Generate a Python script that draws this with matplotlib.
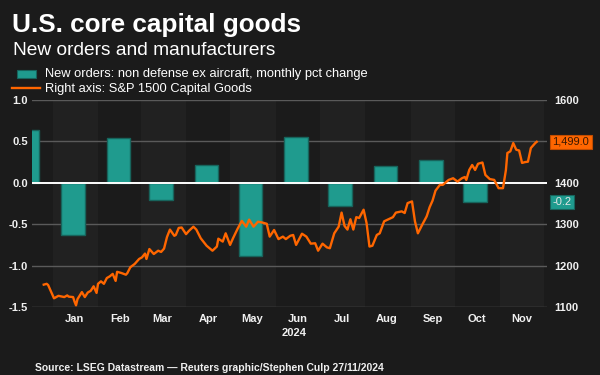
#!/usr/bin/env python3
"""U.S. core capital goods: monthly new orders (bars) vs S&P 1500 Capital Goods (line, right axis)."""
import pandas as pd
import matplotlib
matplotlib.use("Agg")
import matplotlib.pyplot as plt  # noqa: E402
import matplotlib.dates as mdates  # noqa: E402
from matplotlib.patches import Rectangle  # noqa: E402
from matplotlib.lines import Line2D  # noqa: E402

plt.rcParams["font.family"] = ["Liberation Sans", "DejaVu Sans"]

BG = "#1b1b1b"
BAND = "#212121"
TEAL = "#1f9b8e"
TEAL_EDGE = "#17645c"
ORANGE = "#ff6600"
GRID = "#5a5a5a"
TXT = "#f0f0f0"

# new orders, non defense ex aircraft, monthly pct change (bar at mid-month)
order_months = ["2023-12-15", "2024-01-15", "2024-02-15", "2024-03-15", "2024-04-15",
                "2024-05-15", "2024-06-15", "2024-07-15", "2024-08-15", "2024-09-15",
                "2024-10-15"]
order_pct = [0.64, -0.63, 0.54, -0.21, 0.22, -0.88, 0.55, -0.28, 0.20, 0.27, -0.23]

# S&P 1500 Capital Goods index (right axis)
idx_dates = [
    "2023-12-26", "2023-12-28", "2023-12-29", "2024-01-02", "2024-01-05", "2024-01-09",
    "2024-01-11", "2024-01-12", "2024-01-15", "2024-01-16", "2024-01-17", "2024-01-18",
    "2024-01-21", "2024-01-23", "2024-01-25", "2024-01-27", "2024-01-29", "2024-01-31",
    "2024-02-01", "2024-02-03", "2024-02-05", "2024-02-07", "2024-02-09", "2024-02-11",
    "2024-02-13", "2024-02-14", "2024-02-17", "2024-02-20", "2024-02-21", "2024-02-23",
    "2024-02-26", "2024-02-29", "2024-03-02", "2024-03-04", "2024-03-05", "2024-03-07",
    "2024-03-10", "2024-03-13", "2024-03-15", "2024-03-17", "2024-03-19", "2024-03-21",
    "2024-03-24", "2024-03-25", "2024-03-27", "2024-03-29", "2024-04-01", "2024-04-03",
    "2024-04-06", "2024-04-08", "2024-04-11", "2024-04-15", "2024-04-19", "2024-04-22",
    "2024-04-23", "2024-04-26", "2024-04-28", "2024-05-01", "2024-05-03", "2024-05-06",
    "2024-05-09", "2024-05-12", "2024-05-14", "2024-05-17", "2024-05-20", "2024-05-23",
    "2024-05-26", "2024-05-28", "2024-05-31", "2024-06-03", "2024-06-06", "2024-06-08",
    "2024-06-11", "2024-06-13", "2024-06-15", "2024-06-19", "2024-06-22", "2024-06-25",
    "2024-06-28", "2024-06-30", "2024-07-03", "2024-07-06", "2024-07-08", "2024-07-11",
    "2024-07-14", "2024-07-16", "2024-07-18", "2024-07-20", "2024-07-22", "2024-07-24",
    "2024-07-26", "2024-07-28", "2024-07-31", "2024-08-02", "2024-08-04", "2024-08-06",
    "2024-08-09", "2024-08-11", "2024-08-14", "2024-08-17", "2024-08-20", "2024-08-22",
    "2024-08-26", "2024-08-28", "2024-08-30", "2024-09-02", "2024-09-04", "2024-09-06",
    "2024-09-09", "2024-09-12", "2024-09-14", "2024-09-16", "2024-09-18", "2024-09-21",
    "2024-09-23", "2024-09-25", "2024-09-27", "2024-09-30", "2024-10-03", "2024-10-06",
    "2024-10-08", "2024-10-09", "2024-10-11", "2024-10-13", "2024-10-15", "2024-10-17",
    "2024-10-20", "2024-10-22", "2024-10-25", "2024-10-28", "2024-10-31", "2024-11-03",
    "2024-11-05", "2024-11-06", "2024-11-08", "2024-11-10", "2024-11-12", "2024-11-14",
    "2024-11-16", "2024-11-18", "2024-11-20", "2024-11-22", "2024-11-25", "2024-11-26",
]
idx_values = [
    1154, 1156, 1153, 1121, 1127, 1124,
    1128, 1125, 1124, 1113, 1104, 1119,
    1136, 1124, 1135, 1139, 1150, 1134,
    1156, 1162, 1156, 1170, 1174, 1180,
    1163, 1185, 1182, 1178, 1182, 1196,
    1204, 1216, 1220, 1229, 1216, 1240,
    1228, 1236, 1233, 1241, 1269, 1287,
    1272, 1274, 1291, 1292, 1276, 1284,
    1294, 1287, 1266, 1248, 1236, 1246,
    1265, 1258, 1278, 1250, 1266, 1288,
    1308, 1294, 1311, 1294, 1306, 1304,
    1301, 1270, 1286, 1264, 1270, 1264,
    1272, 1274, 1250, 1277, 1270, 1253,
    1254, 1236, 1253, 1244, 1242, 1278,
    1294, 1328, 1296, 1287, 1312, 1287,
    1317, 1315, 1335, 1303, 1246, 1248,
    1274, 1278, 1307, 1312, 1317, 1328,
    1331, 1327, 1351, 1355, 1307, 1278,
    1299, 1319, 1341, 1357, 1381, 1395,
    1395, 1401, 1407, 1411, 1403, 1411,
    1414, 1407, 1431, 1443, 1431, 1446,
    1449, 1419, 1409, 1407, 1387, 1387,
    1431, 1472, 1476, 1496, 1480, 1478,
    1448, 1450, 1451, 1484, 1496, 1499,
]

shade_months = ["2024-01", "2024-03", "2024-05", "2024-07", "2024-09", "2024-11"]


def main():
    bars_x = pd.to_datetime(order_months)
    line_x = pd.to_datetime(idx_dates)

    fig = plt.figure(figsize=(6, 3.75), dpi=100, facecolor=BG)
    ax = fig.add_axes([32 / 600, 1 - 307 / 375, 515 / 600, 207 / 375])
    ax.set_facecolor(BG)

    for m in shade_months:
        start = pd.Timestamp(m + "-01")
        ax.axvspan(start, start + pd.offsets.MonthBegin(1), color=BAND, lw=0, zorder=0)

    for y in [-1.5, -1.0, -0.5, 0.5, 1.0]:
        ax.axhline(y, color=GRID, lw=1, zorder=1)

    ax.bar(bars_x, order_pct, width=16, color=TEAL, edgecolor=TEAL_EDGE,
           linewidth=1, zorder=2)
    ax.axhline(0, color="white", lw=1.4, zorder=3)

    ax.set_ylim(-1.5, 1.0)
    ax.set_yticks([-1.5, -1.0, -0.5, 0.0, 0.5, 1.0])
    ax.set_yticklabels([f"{v:.1f}" for v in [-1.5, -1.0, -0.5, 0.0, 0.5, 1.0]])
    ax.set_xlim(pd.Timestamp("2023-12-18"), pd.Timestamp("2024-12-03"))
    ax.xaxis.set_major_locator(mdates.MonthLocator(bymonthday=16))
    ax.xaxis.set_major_formatter(mdates.DateFormatter("%b"))
    for s in ax.spines.values():
        s.set_visible(False)
    ax.tick_params(axis="both", length=0, colors=TXT, labelsize=8)
    ax.tick_params(axis="y", pad=3)
    ax.tick_params(axis="x", pad=5)
    for lab in ax.get_xticklabels() + ax.get_yticklabels():
        lab.set_fontweight("bold")

    ax2 = ax.twinx()
    ax2.plot(line_x, idx_values, color=ORANGE, lw=1.7, zorder=5)
    ax2.set_ylim(1100, 1600)
    ax2.set_yticks([1100, 1200, 1300, 1400, 1500, 1600])
    ax2.set_yticklabels(["1100", "1200", "1300", "1400", "", "1600"])
    for s in ax2.spines.values():
        s.set_visible(False)
    ax2.tick_params(axis="y", length=0, colors=TXT, labelsize=8, pad=5)
    for lab in ax2.get_yticklabels():
        lab.set_fontweight("bold")

    # last-value boxes on the right edge
    ax2.annotate(f"{idx_values[-1]:,.1f}", xy=(1.0, idx_values[-1]),
                 xycoords=("axes fraction", "data"), xytext=(4, 0),
                 textcoords="offset points", ha="left", va="center",
                 fontsize=8, color="#3a1800",
                 bbox=dict(boxstyle="square,pad=0.2", fc=ORANGE, ec="#c24d00", lw=0.8))
    ax.annotate(f"{order_pct[-1]:.1f}", xy=(1.0, order_pct[-1]),
                xycoords=("axes fraction", "data"), xytext=(4, 0),
                textcoords="offset points", ha="left", va="center",
                fontsize=8, color="#e6e6e6",
                bbox=dict(boxstyle="square,pad=0.2", fc=TEAL, ec=TEAL_EDGE, lw=0.8))

    fig.text(12 / 600, 1 - 32 / 375, "U.S. core capital goods", fontsize=18.8,
             fontweight="bold", color="white", va="baseline")
    fig.text(13 / 600, 1 - 55 / 375, "New orders and manufacturers", fontsize=13.8,
             color="white", va="baseline")

    fig.add_artist(Rectangle((17 / 600, 1 - 78 / 375), 19 / 600, 8.5 / 375,
                             transform=fig.transFigure, fc=TEAL, ec=TEAL_EDGE, lw=0.8))
    fig.add_artist(Line2D([12 / 600, 40 / 600], [1 - 88 / 375] * 2,
                          transform=fig.transFigure, color=ORANGE, lw=1.7))
    fig.text(45 / 600, 1 - 77.5 / 375,
             "New orders: non defense ex aircraft, monthly pct change",
             fontsize=9.3, color="white", va="baseline")
    fig.text(45 / 600, 1 - 92 / 375, "Right axis: S&P 1500 Capital Goods",
             fontsize=9.3, color="white", va="baseline")

    fig.text(294 / 600, 1 - 333 / 375, "2024", fontsize=8, fontweight="bold",
             color=TXT, ha="center", va="center")
    fig.text(35 / 600, 1 - 368 / 375,
             "Source: LSEG Datastream \u2014 Reuters graphic/Stephen Culp 27/11/2024",
             fontsize=7.5, fontweight="bold", color=TXT, va="center")

    fig.savefig("out.png", dpi=100, facecolor=BG)


if __name__ == "__main__":
    main()
